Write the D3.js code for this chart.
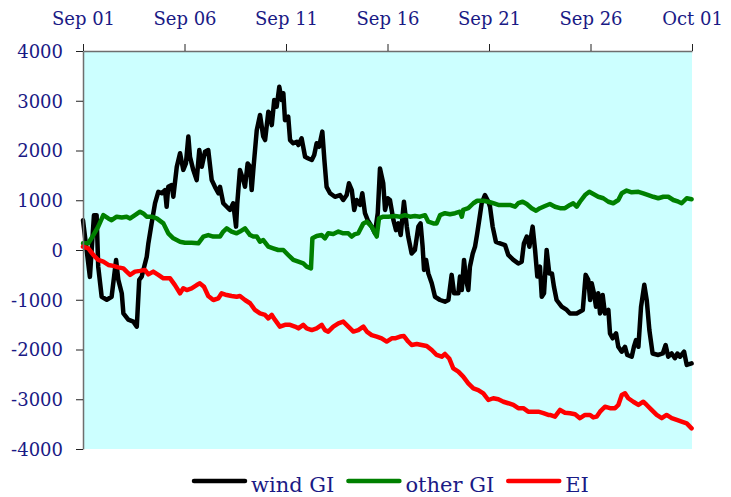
<!DOCTYPE html>
<html><head><meta charset="utf-8">
<script src="https://cdn.jsdelivr.net/npm/d3@7"></script>
<style>body{margin:0;background:#fff}svg{display:block}</style>
</head><body>
<svg id="c" width="731" height="497"></svg>
<script>
// ---- data ----
const startDate = Date.UTC(2014, 8, 1);
const tickDays = [0, 5, 10, 15, 20, 25, 30];
const tickLabels = ["Sep 01", "Sep 06", "Sep 11", "Sep 16", "Sep 21", "Sep 26", "Oct 01"];
const yTicks = [-4000, -3000, -2000, -1000, 0, 1000, 2000, 3000, 4000];
const seriesNames = ["wind GI", "other GI", "EI"];
const seriesColors = ["#000000", "#008000", "#ff0000"];

// [day since Sep 01, value]
const windGI = [[0,600],[0.34,-540],[0.54,700],[0.67,700],[0.75,-335],[0.92,-940],[1.17,-1000],[1.41,-940],[1.63,-200],[1.74,-600],[1.91,-870],[1.99,-1275],[2.23,-1400],[2.48,-1440],[2.65,-1540],[2.77,-600],[2.89,-535],[3.14,-135],[3.22,135],[3.38,535],[3.55,940],[3.71,1170],[3.88,1140],[4.04,1205],[4.12,870],[4.20,1270],[4.37,1305],[4.45,1070],[4.62,1675],[4.78,1945],[4.94,1610],[5.07,1740],[5.19,2280],[5.27,1875],[5.43,1610],[5.60,1405],[5.73,2010],[5.85,1675],[6.01,1975],[6.17,2010],[6.34,1405],[6.50,1270],[6.67,1140],[6.75,1270],[6.91,940],[7.08,870],[7.24,805],[7.40,940],[7.54,470],[7.60,940],[7.73,1610],[7.90,1405],[7.98,1270],[8.11,1740],[8.23,1675],[8.31,1205],[8.39,1610],[8.56,2410],[8.72,2715],[8.88,2280],[8.97,2210],[9.13,2780],[9.21,2745],[9.30,2510],[9.42,3015],[9.54,2880],[9.67,3280],[9.79,3015],[9.87,3150],[9.95,2610],[10.11,2680],[10.20,2210],[10.36,2145],[10.53,2175],[10.61,2110],[10.77,2245],[10.94,1875],[11.10,1840],[11.27,1810],[11.39,1910],[11.51,2145],[11.63,2075],[11.79,2380],[11.89,1810],[12.00,1270],[12.17,1140],[12.41,1070],[12.66,1105],[12.82,1005],[12.99,1105],[13.10,1340],[13.24,1205],[13.36,805],[13.48,1005],[13.65,905],[13.76,1140],[13.89,740],[14.02,605],[14.22,470],[14.38,335],[14.52,740],[14.63,1640],[14.79,1340],[14.88,805],[15.01,1040],[15.12,1005],[15.29,605],[15.42,400],[15.53,535],[15.65,300],[15.81,970],[15.95,470],[16.02,270],[16.19,-70],[16.35,0],[16.52,470],[16.63,535],[16.73,65],[16.80,-400],[16.90,-200],[17.01,-470],[17.18,-670],[17.34,-940],[17.59,-1005],[17.83,-1040],[18.00,-1005],[18.16,-500],[18.28,-870],[18.49,-870],[18.57,-535],[18.66,-805],[18.77,-200],[18.87,-600],[18.98,-805],[19.06,-335],[19.20,-70],[19.31,65],[19.42,335],[19.52,605],[19.64,940],[19.80,1105],[19.97,970],[20.05,870],[20.18,470],[20.34,165],[20.54,135],[20.79,100],[20.95,-100],[21.20,-200],[21.44,-270],[21.61,-235],[21.72,135],[21.86,270],[21.99,65],[22.15,470],[22.27,0],[22.38,-535],[22.51,-335],[22.60,-940],[22.71,-870],[22.84,0],[22.97,-470],[23.10,-470],[23.20,-740],[23.33,-1005],[23.58,-1140],[23.83,-1205],[23.99,-1275],[24.32,-1275],[24.62,-1205],[24.76,-500],[24.89,-600],[24.98,-1005],[25.06,-670],[25.17,-870],[25.27,-1140],[25.38,-870],[25.47,-1275],[25.60,-905],[25.71,-1275],[25.88,-1205],[25.96,-1675],[26.09,-1775],[26.26,-1675],[26.37,-1945],[26.54,-2045],[26.70,-1945],[26.81,-2110],[27.03,-2145],[27.14,-1945],[27.24,-1810],[27.36,-1945],[27.49,-1140],[27.65,-700],[27.77,-1005],[27.90,-1610],[28.06,-2080],[28.34,-2110],[28.56,-2080],[28.70,-1910],[28.83,-2145],[29.00,-2080],[29.16,-2175],[29.28,-2080],[29.41,-2145],[29.61,-2045],[29.74,-2310],[29.98,-2280]];

const otherGI = [[0,135],[0.26,135],[0.51,300],[0.75,470],[1.00,700],[1.25,635],[1.41,600],[1.66,670],[1.91,655],[2.15,670],[2.32,635],[2.56,700],[2.81,770],[2.97,735],[3.14,670],[3.38,670],[3.63,635],[3.96,535],[4.20,335],[4.45,235],[4.78,167],[5.02,147],[5.35,147],[5.68,135],[5.93,270],[6.17,300],[6.42,270],[6.75,270],[6.91,370],[7.08,435],[7.32,370],[7.57,335],[7.73,370],[7.98,435],[8.23,300],[8.39,270],[8.56,270],[8.72,167],[8.88,200],[9.13,67],[9.37,33],[9.62,0],[9.87,0],[10.11,-100],[10.36,-200],[10.61,-235],[10.85,-270],[11.02,-335],[11.23,-370],[11.30,235],[11.51,280],[11.76,300],[11.92,235],[12.08,335],[12.33,320],[12.58,370],[12.82,335],[13.07,335],[13.24,270],[13.40,320],[13.56,335],[13.81,535],[13.98,570],[14.22,470],[14.47,270],[14.58,635],[14.79,670],[15.04,670],[15.37,685],[15.62,670],[15.86,700],[16.11,670],[16.35,685],[16.60,670],[16.85,700],[17.01,570],[17.26,535],[17.42,535],[17.59,700],[17.83,740],[18.08,720],[18.33,740],[18.57,770],[18.66,670],[18.73,805],[18.98,840],[19.23,940],[19.42,990],[19.72,990],[19.97,970],[20.21,940],[20.46,905],[20.79,905],[21.03,905],[21.28,870],[21.44,940],[21.66,970],[21.86,925],[22.10,840],[22.32,790],[22.51,840],[22.76,885],[23.00,925],[23.25,870],[23.50,840],[23.74,840],[23.99,905],[24.15,940],[24.32,870],[24.48,970],[24.73,1105],[24.94,1170],[25.14,1125],[25.38,1070],[25.63,1040],[25.88,970],[26.12,940],[26.37,1005],[26.54,1140],[26.78,1195],[27.03,1160],[27.36,1170],[27.60,1140],[27.85,1105],[28.09,1070],[28.34,1040],[28.59,1070],[28.83,1070],[29.08,1005],[29.33,970],[29.49,940],[29.74,1040],[29.98,1020]];

const EI = [[0,67],[0.26,33],[0.51,-100],[0.75,-200],[1.00,-235],[1.25,-300],[1.49,-320],[1.74,-350],[1.99,-370],[2.15,-435],[2.32,-500],[2.56,-435],[2.81,-420],[3.05,-400],[3.22,-490],[3.46,-435],[3.71,-500],[3.96,-570],[4.29,-570],[4.53,-705],[4.78,-870],[4.94,-770],[5.11,-805],[5.35,-770],[5.60,-705],[5.76,-670],[5.96,-740],[6.17,-925],[6.42,-1005],[6.67,-970],[6.83,-870],[7.08,-905],[7.32,-925],[7.57,-940],[7.73,-925],[7.98,-1005],[8.23,-1070],[8.47,-1205],[8.72,-1275],[8.97,-1305],[9.13,-1375],[9.30,-1305],[9.46,-1405],[9.70,-1540],[9.95,-1505],[10.20,-1505],[10.44,-1540],[10.61,-1575],[10.85,-1505],[11.02,-1575],[11.27,-1610],[11.51,-1575],[11.76,-1505],[11.92,-1610],[12.08,-1640],[12.33,-1540],[12.58,-1475],[12.82,-1440],[13.07,-1540],[13.32,-1640],[13.56,-1610],[13.81,-1540],[13.98,-1640],[14.22,-1710],[14.47,-1740],[14.71,-1775],[14.96,-1840],[15.21,-1775],[15.37,-1775],[15.62,-1740],[15.81,-1730],[16.02,-1840],[16.19,-1910],[16.44,-1890],[16.68,-1910],[16.93,-1930],[17.18,-2010],[17.42,-2110],[17.67,-2145],[17.83,-2090],[18.04,-2180],[18.24,-2380],[18.49,-2445],[18.73,-2545],[18.98,-2680],[19.23,-2780],[19.47,-2815],[19.72,-2880],[19.97,-3015],[20.21,-2980],[20.46,-3000],[20.71,-3050],[20.95,-3080],[21.20,-3115],[21.44,-3180],[21.69,-3180],[21.93,-3250],[22.18,-3250],[22.43,-3250],[22.68,-3280],[22.92,-3315],[23.00,-3315],[23.25,-3350],[23.50,-3215],[23.74,-3270],[23.99,-3280],[24.24,-3300],[24.48,-3380],[24.73,-3315],[24.98,-3315],[25.14,-3365],[25.30,-3350],[25.47,-3250],[25.71,-3150],[25.96,-3180],[26.21,-3180],[26.37,-3115],[26.54,-2915],[26.70,-2880],[26.86,-2980],[27.11,-3050],[27.36,-3115],[27.60,-3050],[27.77,-3115],[28.01,-3215],[28.26,-3315],[28.51,-3380],[28.75,-3315],[29.00,-3380],[29.25,-3415],[29.49,-3450],[29.74,-3485],[29.98,-3585]];

const seriesData = [windGI, otherGI, EI];

// ---- chart ----
const W = 731, H = 497;
const plot = {left: 83, right: 692, top: 51, bottom: 449};
const FONT = "'DejaVu Serif', serif";
const TEXT_COLOR = "#1a1a85";
const toDate = d => new Date(startDate + d * 86400000);

const svg = d3.select("#c");
const x = d3.scaleUtc().domain([toDate(0), toDate(30)]).range([plot.left, plot.right]);
const y = d3.scaleLinear().domain([-4000, 4000]).range([plot.bottom, plot.top]);

svg.append("rect")
  .attr("x", plot.left).attr("y", plot.top)
  .attr("width", plot.right - plot.left).attr("height", plot.bottom - plot.top)
  .attr("fill", "#ccffff");

const line = d3.line().x(d => x(toDate(d[0]))).y(d => y(d[1]));
seriesData.forEach((s, i) => {
  svg.append("path").datum(s)
    .attr("d", line)
    .attr("fill", "none")
    .attr("stroke", seriesColors[i])
    .attr("stroke-width", 4.5)
    .attr("stroke-linejoin", "round")
    .attr("stroke-linecap", "round");
});

const xAxis = d3.axisTop(x)
  .tickValues(tickDays.map(toDate))
  .tickFormat((d, i) => tickLabels[i])
  .tickSize(7).tickSizeOuter(0).tickPadding(19);
const gx = svg.append("g").attr("transform", `translate(0,${plot.top})`).call(xAxis);

const yAxis = d3.axisLeft(y)
  .tickValues(yTicks)
  .tickFormat(d => String(d))
  .tickSize(7).tickSizeOuter(0).tickPadding(13);
const gy = svg.append("g").attr("transform", `translate(${plot.left},0)`).call(yAxis);

[gx, gy].forEach(g => {
  g.select(".domain").attr("stroke", "#6e6e6e").attr("stroke-width", 1.5);
  g.selectAll(".tick line").attr("stroke", "#222");
  g.selectAll(".tick text")
    .attr("fill", TEXT_COLOR)
    .style("font-family", FONT)
    .style("font-size", "18px");
});
gy.selectAll(".tick text").attr("dy", "0.36em");

// legend
const legY = 481;
let lx = 194;
seriesNames.forEach((name, i) => {
  svg.append("line")
    .attr("x1", lx).attr("x2", lx + 51)
    .attr("y1", legY).attr("y2", legY)
    .attr("stroke", seriesColors[i]).attr("stroke-width", 4.5)
    .attr("stroke-linecap", "round");
  const t = svg.append("text")
    .attr("x", lx + 57).attr("y", legY + 11)
    .attr("fill", TEXT_COLOR)
    .style("font-family", FONT)
    .style("font-size", "21px")
    .text(name);
  lx = lx + 57 + t.node().getComputedTextLength() + 14;
});
</script>
</body></html>
